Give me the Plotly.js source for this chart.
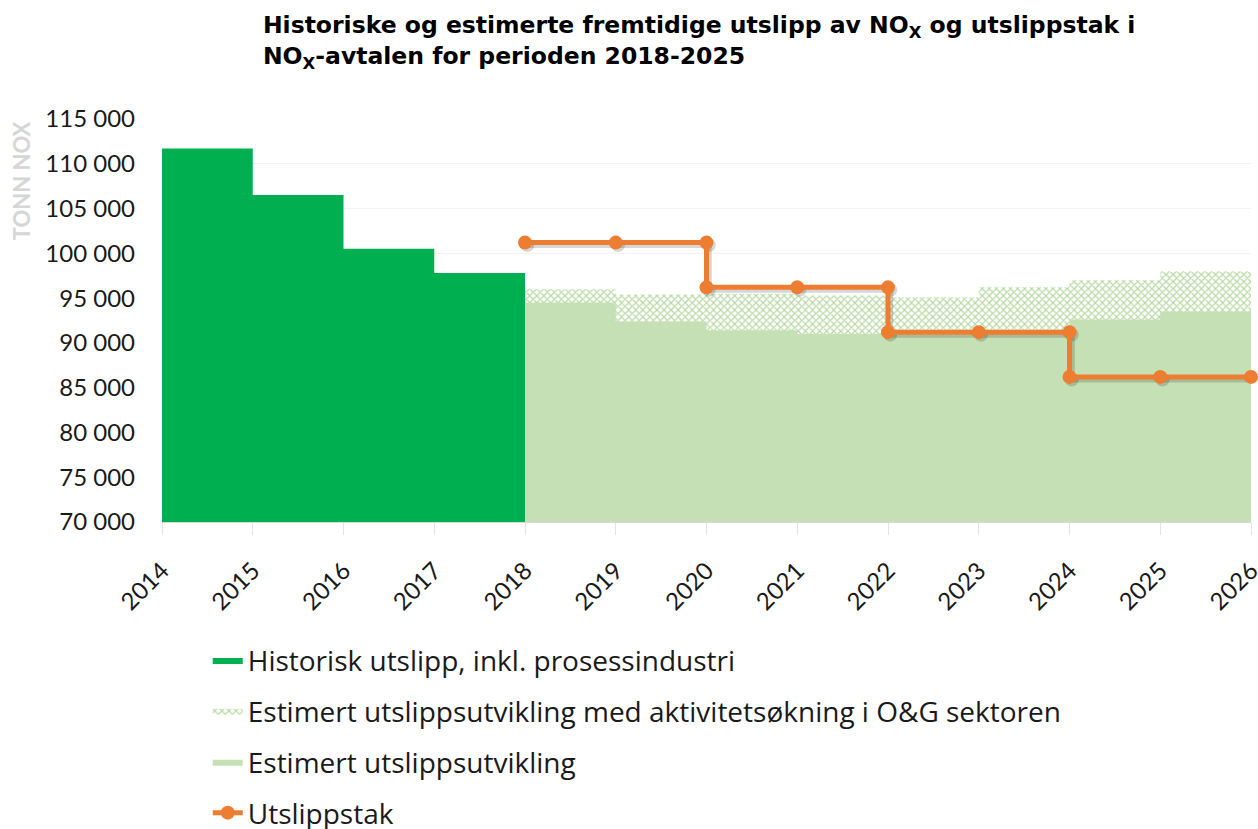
<!DOCTYPE html>
<html lang="no">
<head>
  <meta charset="UTF-8">
  <title>Utslipp av NOx og utslippstak</title>
  <script src="https://cdn.plot.ly/plotly-3.0.1.min.js"></script>
  <style>
    body { margin: 0; background: #fff; }
  </style>
</head>
<body>
  <div id="plot"></div>

  <script>
    // Historiske utslipp (tonn NOx), ett tall per år
    const histYears = [2014, 2015, 2016, 2017];
    const histValues = [111700, 106500, 100500, 97800];

    // Estimerte utslipp 2018-2025
    const estYears = [2018, 2019, 2020, 2021, 2022, 2023, 2024, 2025];
    const estHigh = [96000, 95400, 95500, 95300, 95100, 96200, 97000, 98000];
    const estBase = [94500, 92400, 91400, 91000, 90900, 91000, 92600, 93500];
    const endYear = 2026;

    // Utslippstak (trappetrinn)
    const capX = [2018, 2019, 2020, 2020, 2021, 2022, 2022, 2023, 2024, 2024, 2025, 2026];
    const capY = [101200, 101200, 101200, 96200, 96200, 96200, 91200, 91200, 91200, 86200, 86200, 86200];

    const tickYears = [2014, 2015, 2016, 2017, 2018, 2019, 2020, 2021, 2022, 2023, 2024, 2025, 2026];

    // step helper: close the last period at its end year
    function steps(xs, ys, end) {
      return { x: xs.concat([end]), y: ys.concat([ys[ys.length - 1]]) };
    }

    const hist = steps(histYears, histValues, 2018);
    const high = steps(estYears, estHigh, endYear);
    const base = steps(estYears, estBase, endYear);

    const traceHist = {
      x: hist.x, y: hist.y,
      type: 'scatter', mode: 'lines',
      line: { shape: 'hv', width: 0, color: '#00b050' },
      fill: 'tozeroy', fillcolor: '#00b050',
      name: 'Historisk utslipp, inkl. prosessindustri',
      legendgroup: 'a'
    };

    const traceHigh = {
      x: high.x, y: high.y,
      type: 'scatter', mode: 'lines',
      line: { shape: 'hv', width: 0, color: '#c5e0b4' },
      fill: 'tozeroy',
      fillcolor: '#ffffff',
      fillpattern: { shape: 'x', fgcolor: '#b6d89f', bgcolor: '#ffffff', size: 5, solidity: 0.4 },
      name: 'Estimert utslippsutvikling med aktivitetsøkning i O&G sektoren',
      legendgroup: 'b'
    };

    const traceBase = {
      x: base.x, y: base.y,
      type: 'scatter', mode: 'lines',
      line: { shape: 'hv', width: 0, color: '#c5e0b4' },
      fill: 'tozeroy', fillcolor: '#c5e0b4',
      name: 'Estimert utslippsutvikling',
      legendgroup: 'c'
    };

    // faint drop shadow under the cap line
    const traceShadow = {
      x: capX.map(v => v + 0.025), y: capY.map(v => v - 280),
      type: 'scatter', mode: 'lines+markers',
      line: { color: 'rgba(0,0,0,0.16)', width: 6 },
      marker: { color: 'rgba(0,0,0,0.16)', size: 14 },
      hoverinfo: 'skip', showlegend: false, cliponaxis: false
    };

    const traceCap = {
      x: capX, y: capY,
      type: 'scatter', mode: 'lines+markers',
      line: { color: '#ed7d31', width: 5 },
      marker: { color: '#ed7d31', size: 14 },
      name: 'Utslippstak',
      legendgroup: 'd',
      cliponaxis: false
    };

    const layout = {
      width: 1258, height: 829,
      margin: { l: 162, r: 7, t: 119, b: 307, autoexpand: false },
      paper_bgcolor: '#ffffff', plot_bgcolor: '#ffffff',
      separators: ', ',
      font: { family: 'Lato, sans-serif', color: '#1a1a1a' },
      title: {
        text: '<b>Historiske og estimerte fremtidige utslipp av NO<sub>X</sub> og utslippstak i<br>NO<sub>X</sub>-avtalen for perioden 2018-2025</b>',
        font: { family: 'DejaVu Sans', size: 23.5, color: '#000' },
        x: 0.209, xanchor: 'left', xref: 'container',
        y: 0.96, yanchor: 'top', yref: 'container'
      },
      xaxis: {
        range: [2014, 2026],
        tickvals: tickYears,
        ticktext: tickYears.map(String),
        tickangle: -45,
        tickfont: { size: 24, color: '#1a1a1a' },
        ticks: 'outside', ticklen: 12, tickcolor: '#e4e4e4',
        ticklabelstandoff: 12,
        ticklabeloverflow: 'allow',
        showline: true, linecolor: '#d9d9d9',
        showgrid: false, zeroline: false, fixedrange: true
      },
      yaxis: {
        range: [70000, 115000],
        dtick: 5000,
        tickformat: ',d',
        tickfont: { size: 24, color: '#1a1a1a' },
        ticklabelstandoff: 26,
        gridcolor: '#f3f3f3',
        showline: false, zeroline: false, fixedrange: true
      },
      annotations: [{
        text: '<b>TONN NOX</b>',
        xref: 'paper', yref: 'paper',
        x: -0.1295, y: 0.848,
        xanchor: 'center', yanchor: 'middle',
        textangle: -90, showarrow: false,
        font: { family: 'Lato, sans-serif', size: 22, color: '#d6d6d6' }
      }],
      showlegend: true,
      legend: {
        orientation: 'v',
        x: 0.042, xanchor: 'left',
        y: -0.281, yanchor: 'top',
        traceorder: 'grouped',
        tracegroupgap: 11.5,
        font: { family: 'Open Sans, sans-serif', size: 28, color: '#1a1a1a' },
        bgcolor: 'rgba(0,0,0,0)'
      }
    };

    Plotly.newPlot('plot', [traceHist, traceHigh, traceBase, traceShadow, traceCap], layout, { displayModeBar: false, staticPlot: true });
  </script>
</body>
</html>
